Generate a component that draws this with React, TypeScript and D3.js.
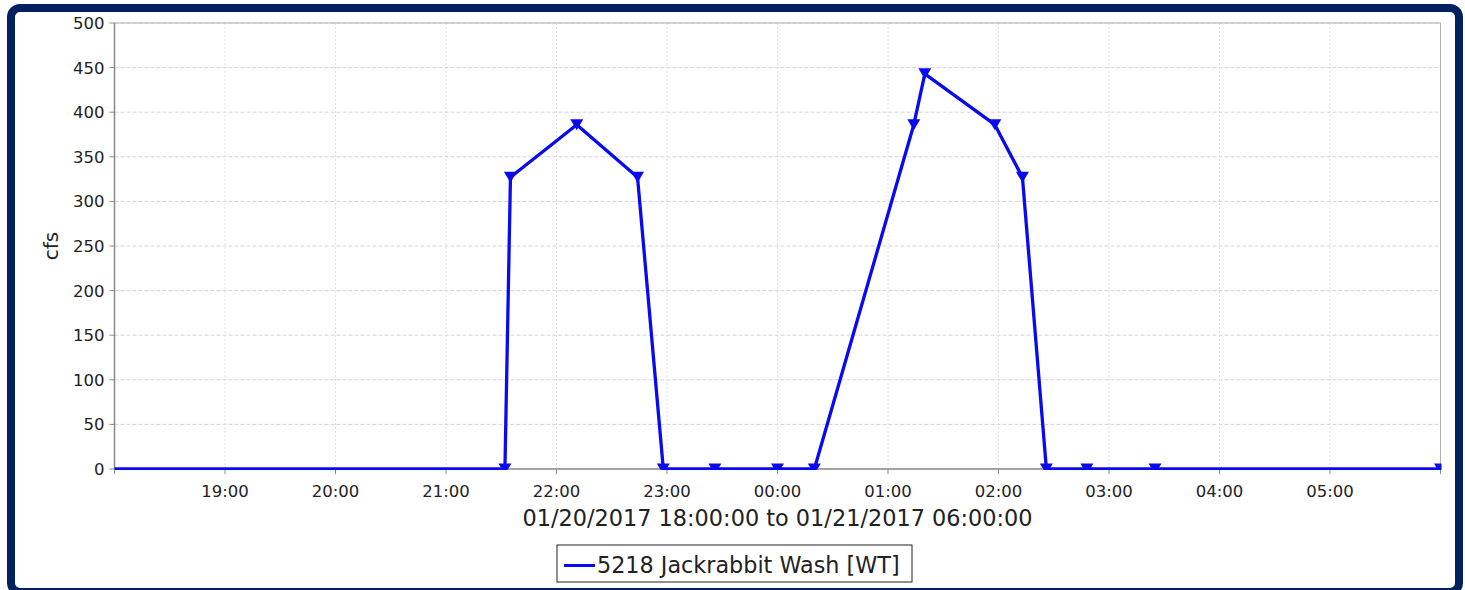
import * as d3 from 'd3'

const times = [
  '2017-01-20 17:45', '2017-01-20 21:32', '2017-01-20 21:35', '2017-01-20 22:11',
  '2017-01-20 22:44', '2017-01-20 22:58', '2017-01-20 23:26', '2017-01-21 00:00',
  '2017-01-21 00:20', '2017-01-21 01:14', '2017-01-21 01:20', '2017-01-21 01:58',
  '2017-01-21 02:13', '2017-01-21 02:26', '2017-01-21 02:48', '2017-01-21 03:25',
  '2017-01-21 06:00',
]
const flows = [0, 0, 327, 386, 327, 0, 0, 0, 0, 386, 443, 386, 327, 0, 0, 0, 0]
const yTicks = [0, 50, 100, 150, 200, 250, 300, 350, 400, 450, 500]
const seriesName = '5218 Jackrabbit Wash [WT]'
const xTitle = '01/20/2017 18:00:00 to 01/21/2017 06:00:00'

const parse = d3.timeParse('%Y-%m-%d %H:%M')
const points = times.map((t, i) => ({ date: parse(t) as Date, value: flows[i] }))

const W = 1465
const H = 590
const margin = { top: 23, right: 24.5, bottom: 121, left: 114.5 }
const innerW = W - margin.left - margin.right
const innerH = H - margin.top - margin.bottom

const font = '"DejaVu Sans", Verdana, sans-serif'
const blue = '#0a0af0'

export default function App() {
  const x = d3
    .scaleTime()
    .domain([parse('2017-01-20 18:00') as Date, parse('2017-01-21 06:00') as Date])
    .range([0, innerW])
  const y = d3.scaleLinear().domain([0, 500]).range([innerH, 0])
  const hours = x.ticks(d3.timeHour.every(1) as d3.TimeInterval)
  const labelled = hours.filter((_, i) => i > 0 && i < hours.length - 1)
  const fmt = d3.timeFormat('%H:%M')

  const line = d3
    .line<{ date: Date; value: number }>()
    .x(d => x(d.date))
    .y(d => y(d.value))

  const tri = 'M-6.5,-5.5 L6.5,-5.5 L0,5.5 Z'

  return (
    <div style={{ position: 'fixed', left: 0, top: 0 }}>
      <svg width={W} height={H} style={{ display: 'block', fontFamily: font }}>
        <rect x={0} y={0} width={W} height={H} fill="#fff" />
        <rect x={11} y={8} width={1448} height={584} rx={9} fill="#fff" stroke="#00215e" strokeWidth={8} />
        <defs>
          <clipPath id="plotClip">
            <rect x={0} y={-1} width={innerW + 1} height={innerH + 2} />
          </clipPath>
        </defs>
        <g transform={`translate(${margin.left},${margin.top})`}>
          {/* grid */}
          {yTicks.map(t => (
            <line key={'gy' + t} x1={0} x2={innerW} y1={y(t)} y2={y(t)} stroke="#d4d4d4" strokeWidth={1} strokeDasharray="4,2" />
          ))}
          {hours.map(h => (
            <line key={'gx' + h.getTime()} x1={x(h)} x2={x(h)} y1={0} y2={innerH} stroke="#e0e0e0" strokeWidth={1} strokeDasharray="2,2" />
          ))}
          {/* axes */}
          <line x1={0} x2={0} y1={0} y2={innerH} stroke="#8a8a8a" strokeWidth={1.5} />
          <line x1={0} x2={innerW} y1={innerH} y2={innerH} stroke="#8a8a8a" strokeWidth={1.5} />
          <line x1={innerW} x2={innerW} y1={0} y2={innerH} stroke="#b0b0b0" strokeWidth={1} />
          <line x1={0} x2={innerW} y1={0} y2={0} stroke="#b0b0b0" strokeWidth={1} />
          {yTicks.map(t => (
            <g key={'yt' + t}>
              <line x1={-5} x2={0} y1={y(t)} y2={y(t)} stroke="#8a8a8a" />
              <text x={-10} y={y(t)} dy="0.36em" textAnchor="end" fontSize={16.5} fill="#222">{t}</text>
            </g>
          ))}
          {hours.map(h => (
            <line key={'xt' + h.getTime()} x1={x(h)} x2={x(h)} y1={innerH} y2={innerH + 5} stroke="#8a8a8a" />
          ))}
          {labelled.map(h => (
            <text key={'xl' + h.getTime()} x={x(h)} y={innerH + 28} textAnchor="middle" fontSize={16.5} fill="#222">{fmt(h)}</text>
          ))}
          {/* series */}
          <g clipPath="url(#plotClip)">
            <path d={line(points) as string} fill="none" stroke={blue} strokeWidth={3.3} strokeLinejoin="round" />
            {points.map((p, i) => (
              <path key={'m' + i} d={tri} transform={`translate(${x(p.date)},${y(p.value)})`} fill={blue} />
            ))}
          </g>
          <text x={innerW / 2} y={innerH + 57} textAnchor="middle" fontSize={22.4} fill="#222">{xTitle}</text>
          <text transform={`translate(${-57},${innerH / 2}) rotate(-90)`} textAnchor="middle" fontSize={20} fill="#222">cfs</text>
        </g>
        {/* legend */}
        <g transform="translate(557,545)">
          <rect x={0} y={0} width={355} height={37} fill="#fff" stroke="#222" strokeWidth={1} />
          <line x1={7} x2={38} y1={20.5} y2={20.5} stroke={blue} strokeWidth={3} />
          <text x={40} y={28} fontSize={22.3} fill="#222">{seriesName}</text>
        </g>
      </svg>
    </div>
  )
}
